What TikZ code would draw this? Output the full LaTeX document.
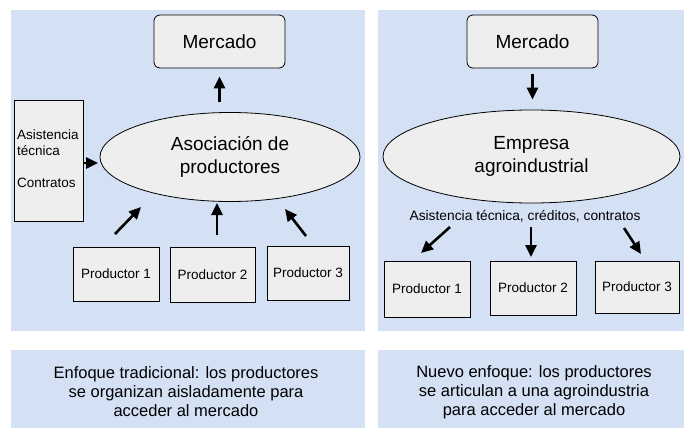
\documentclass[tikz,border=0pt]{standalone}
\usepackage{fontspec}
\setmainfont{Liberation Sans}
\usetikzlibrary{arrows.meta,shapes.geometric}
\definecolor{panelblue}{HTML}{D4E1F5}
\definecolor{boxgray}{HTML}{EEEEEE}
\tikzset{
  panel/.style={fill=panelblue,draw=none},
  mbox/.style={draw=black,fill=boxgray,rounded corners=6pt,line width=0.8pt,minimum width=131pt,minimum height=53pt,inner sep=0pt,font=\fontsize{19}{22.5}\selectfont},
  ell/.style={ellipse,draw=black,fill=boxgray,line width=0.8pt,inner sep=0pt,align=center,font=\fontsize{19}{22.5}\selectfont},
  pbox/.style={draw=black,fill=boxgray,line width=0.8pt,inner sep=0pt,font=\fontsize{13.5}{16}\selectfont},
  arr/.style={line width=2.6pt,-{Triangle[length=12pt,width=11pt]}},
  caption/.style={align=center,font=\fontsize{16.5}{19}\selectfont},
}
\begin{document}
\begin{tikzpicture}[x=1pt,y=-1pt]
\useasboundingbox (0,0) rectangle (684,428);
\fill[white] (0,0) rectangle (684,428);
% panels
\fill[panel] (11,10) rectangle (365,331);
\fill[panel] (378,10) rectangle (684,331);
\fill[panel] (11,350) rectangle (365,428);
\fill[panel] (378,350) rectangle (684,428);

% ---------- left diagram ----------
\node[mbox] (mercL) at (219.5,41.5) {Mercado};
\node[ell,minimum width=260pt,minimum height=89pt] (asoc) at (230,157) {Asociación de\\productores};
\node[pbox,minimum width=69pt,minimum height=121pt] (asis) at (48.5,160.5) {};
\node[anchor=west,align=left,inner sep=0pt,font=\fontsize{13.5}{16}\selectfont] (asistxt) at (17,159) {Asistencia\\técnica\\[16pt]Contratos};
\node[pbox,minimum width=86pt,minimum height=54pt] (pL1) at (116,274) {Productor 1};
\node[pbox,minimum width=85pt,minimum height=55pt] (pL2) at (212.5,274.5) {Productor 2};
\node[pbox,minimum width=82pt,minimum height=54pt] (pL3) at (308,273) {Productor 3};

\coordinate (a1s) at (115,234); \coordinate (a1e) at (141,207);
\coordinate (a3s) at (306,236); \coordinate (a3e) at (285,209);
\coordinate (sides) at (83,163); \coordinate (sidee) at (98,163);

\draw[arr,shorten <=10pt,shorten >=8pt] (asoc.north -| mercL.south) -- (mercL.south);
\draw[arr] (sides) -- (sidee);
\draw[arr] (a1s) -- (a1e);
\draw[arr,shorten <=6pt,shorten >=0pt] (pL2.north -| 217,0) ++(0,-6) coordinate (a2s) -- (217,203) coordinate (a2e);
\draw[arr] (a3s) -- (a3e);

% ---------- right diagram ----------
\node[mbox] (mercR) at (532.5,41.5) {Mercado};
\node[ell,minimum width=297pt,minimum height=93pt] (emp) at (531.5,156.5) {Empresa\\agroindustrial};
\node[inner sep=0pt,font=\fontsize{13.8}{16}\selectfont] (lbl) at (525,216) {Asistencia técnica, créditos, contratos};
\node[pbox,minimum width=86pt,minimum height=56pt] (pR1) at (427,289) {Productor 1};
\node[pbox,minimum width=86pt,minimum height=54pt] (pR2) at (533,288) {Productor 2};
\node[pbox,minimum width=84pt,minimum height=52pt] (pR3) at (637,287) {Productor 3};

\coordinate (b1s) at (450,227); \coordinate (b1e) at (421,253);
\coordinate (b2s) at (531,227); \coordinate (b2e) at (531,257);
\coordinate (b3s) at (624,228); \coordinate (b3e) at (641,254);

\draw[arr,shorten <=6pt,shorten >=10pt] (mercR.south) -- (mercR.south |- emp.north);
\draw[arr] (b1s) -- (b1e);
\draw[arr] (b2s) -- (b2e);
\draw[arr] (b3s) -- (b3e);

% ---------- captions ----------
\node[caption] (capL) at (186,392) {Enfoque tradicional: los productores\\se organizan aisladamente para\\acceder al mercado};
\node[caption] (capR) at (534,392) {Nuevo enfoque: los productores\\se articulan a una agroindustria\\para acceder al mercado};
\end{tikzpicture}
\end{document}
